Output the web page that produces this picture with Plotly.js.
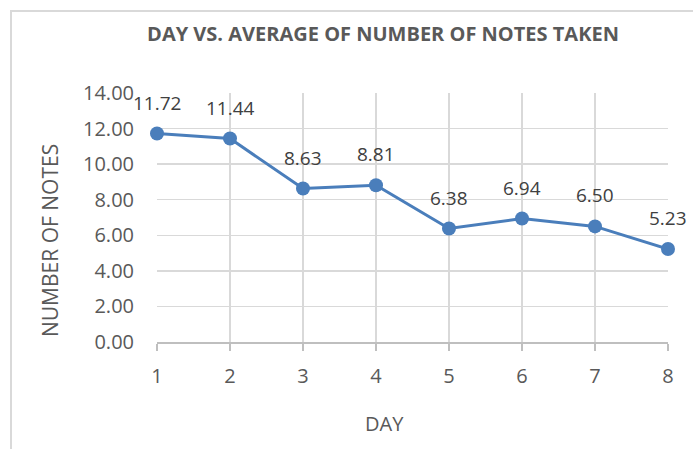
<!DOCTYPE html>
<html>
<head>
<meta charset="utf-8">
<script src="https://cdn.plot.ly/plotly-3.0.1.min.js"></script>
<style>
  html, body { margin: 0; padding: 0; background: #ffffff; }
  #wrap { position: relative; width: 693px; height: 449px; overflow: hidden; }
  #plot { position: absolute; left: 0; top: 0; width: 693px; height: 449px; }
  #frame { position: absolute; left: 10px; top: 10px; width: 720px; height: 480px;
           border: 2px solid #d9d9d9; box-sizing: border-box; pointer-events: none; }
</style>
</head>
<body>
<div id="wrap">
  <div id="plot"></div>
  <div id="frame"></div>
</div>
<script>
const days = [1, 2, 3, 4, 5, 6, 7, 8];
const avgNotes = [11.72, 11.44, 8.63, 8.81, 6.38, 6.94, 6.50, 5.23];
const yTicks = [0, 2, 4, 6, 8, 10, 12, 14];

const FONT = 'Open Sans, Calibri, sans-serif';

const trace = {
  x: days,
  y: avgNotes,
  type: 'scatter',
  mode: 'lines+markers',
  line: { color: '#4a7ebb', width: 3 },
  marker: { color: '#4a7ebb', size: 14 },
  cliponaxis: false,
  hoverinfo: 'skip'
};

const labels = days.map((d, i) => ({
  x: d,
  y: avgNotes[i],
  xref: 'x',
  yref: 'y',
  text: avgNotes[i].toFixed(2),
  showarrow: false,
  yshift: 31,
  font: { family: FONT, size: 19, color: '#404040' }
}));

const layout = {
  width: 693,
  height: 449,
  margin: { l: 157, r: 25, t: 93, b: 107 },
  paper_bgcolor: 'rgba(0,0,0,0)',
  plot_bgcolor: '#ffffff',
  showlegend: false,
  font: { family: FONT, color: '#595959' },
  title: {
    text: '<b>DAY VS. AVERAGE OF NUMBER OF NOTES TAKEN</b>',
    font: { family: FONT, size: 20, color: '#595959' },
    x: 383 / 693,
    xanchor: 'center',
    y: 1 - 34 / 449,
    yanchor: 'middle'
  },
  xaxis: {
    range: [1, 8],
    tickvals: days,
    ticktext: days.map(String),
    showgrid: true,
    gridcolor: '#d9d9d9',
    gridwidth: 1.5,
    zeroline: false,
    showline: true,
    linecolor: '#bfbfbf',
    linewidth: 1.5,
    ticks: 'outside',
    ticklen: 7,
    tickwidth: 1.5,
    tickcolor: '#bfbfbf',
    ticklabelstandoff: 8,
    tickfont: { family: FONT, size: 20, color: '#595959' },
    fixedrange: true
  },
  yaxis: {
    range: [0, 14],
    tickvals: yTicks,
    ticktext: yTicks.map(v => v.toFixed(2)),
    showgrid: true,
    gridcolor: '#d9d9d9',
    gridwidth: 1.5,
    zeroline: false,
    showline: false,
    ticks: '',
    ticklabelstandoff: 22,
    tickfont: { family: FONT, size: 20, color: '#595959' },
    fixedrange: true
  },
  annotations: labels.concat([
    {
      text: 'NUMBER OF NOTES',
      xref: 'paper', yref: 'paper',
      x: (50 - 157) / 511, y: (342 - 241) / 249,
      xanchor: 'center', yanchor: 'middle',
      textangle: -90,
      showarrow: false,
      font: { family: FONT, size: 21, color: '#595959' }
    },
    {
      text: 'DAY',
      xref: 'paper', yref: 'paper',
      x: (384 - 157) / 511, y: (342 - 423) / 249,
      xanchor: 'center', yanchor: 'middle',
      showarrow: false,
      font: { family: FONT, size: 20, color: '#595959' }
    }
  ])
};

Plotly.newPlot('plot', [trace], layout, { displayModeBar: false, staticPlot: true });
</script>
</body>
</html>
